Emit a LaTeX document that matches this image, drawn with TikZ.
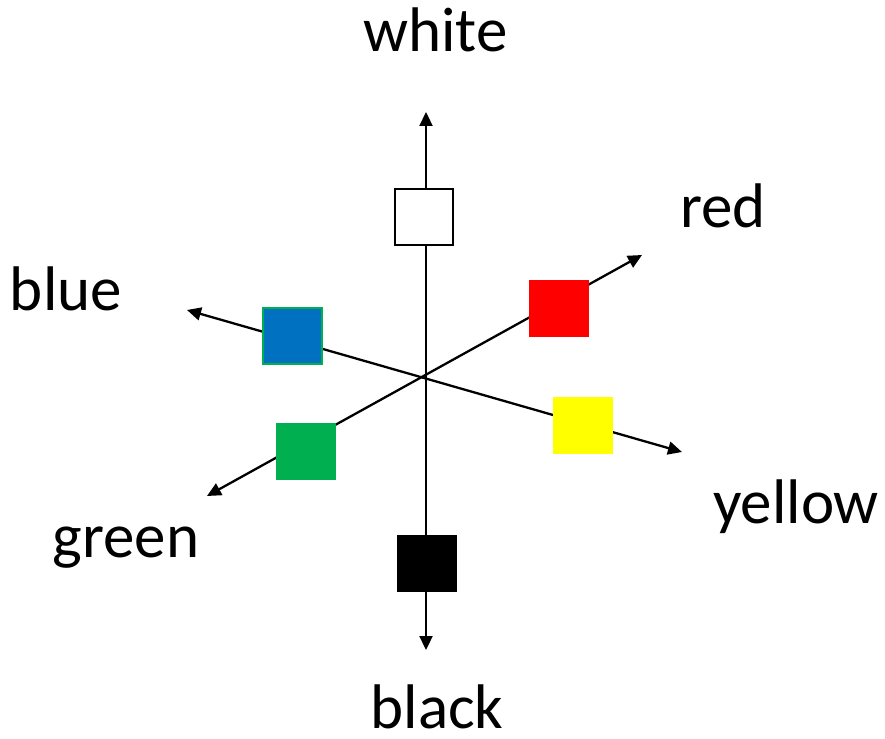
\documentclass[tikz,border=0pt]{standalone}
\usepackage{fontspec}
\setmainfont{Carlito}
\usetikzlibrary{arrows.meta}
\definecolor{cgreen}{HTML}{00B050}
\definecolor{cblue}{HTML}{0070C0}
\definecolor{cred}{HTML}{FF0000}
\definecolor{cyellow}{HTML}{FFFF00}
\tikzset{
  axisline/.style={line width=2.3pt, {Triangle[length=14pt,width=13pt]}-{Triangle[length=14pt,width=13pt]}},
  swatch/.style={minimum width=60pt, minimum height=57pt, inner sep=0pt, outer sep=0pt},
  lbl/.style={anchor=base, inner sep=0pt, font=\fontsize{63}{63}\selectfont}
}
\begin{document}
\begin{tikzpicture}[x=1pt,y=-1pt]
\useasboundingbox (0,0) rectangle (885,738);
% axis end points
\coordinate (top) at (426,112);
\coordinate (bottom) at (426,650);
\coordinate (gtip) at (207,496);
\coordinate (rtip) at (642,255);
\coordinate (btip) at (187,310);
\coordinate (ytip) at (682,452);
% axes
\draw[axisline] (bottom) -- (top);
\draw[axisline] (gtip) -- (rtip);
\draw[axisline] (btip) -- (ytip);
% swatches
\node[swatch, fill=white, draw=black, line width=2pt, minimum width=58pt, minimum height=56pt] (white) at (424,217) {};
\node[swatch, fill=black] (black) at (426.5,563.5) {};
\node[swatch, fill=cblue, draw=cgreen, line width=2pt, minimum width=59pt, minimum height=56pt] (blue) at (292.5,336) {};
\node[swatch, fill=cred] (red) at (559,308) {};
\node[swatch, fill=cgreen] (green) at (306,451.5) {};
\node[swatch, fill=cyellow] (yellow) at (583,425) {};
% labels
\node[lbl] (lwhite) at (435.5,52) {white};
\node[lbl] (lblack) at (437,728) {black};
\node[lbl] (lred) at (723,227) {red};
\node[lbl] (lblue) at (66,310) {blue};
\node[lbl] (lgreen) at (126,557) {green};
\node[lbl] (lyellow) at (796,523) {yellow};
\end{tikzpicture}
\end{document}
